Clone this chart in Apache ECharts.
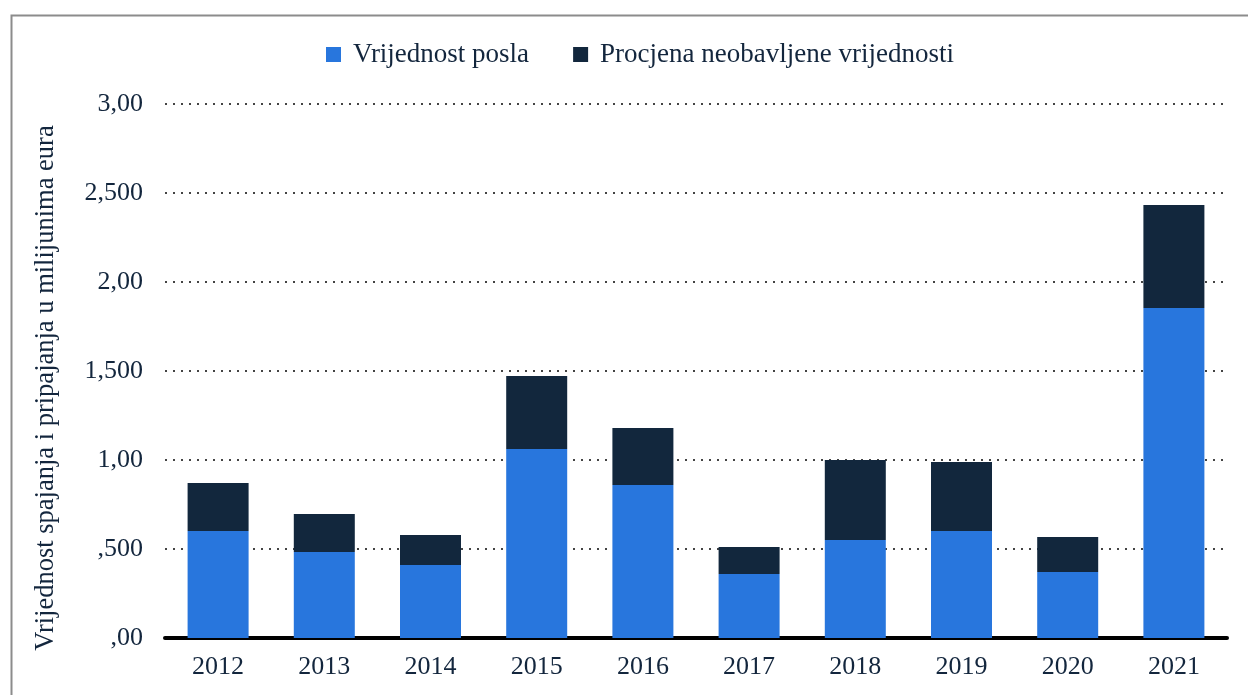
<!DOCTYPE html>
<html>
<head>
<meta charset="utf-8">
<script src="https://cdn.jsdelivr.net/npm/echarts@6/dist/echarts.min.js"></script>
<style>
  html, body { margin: 0; padding: 0; background: #fff; }
  #chart { width: 1248px; height: 695px; }
</style>
</head>
<body>
<div id="chart"></div>
<script>
var years = ['2012', '2013', '2014', '2015', '2016', '2017', '2018', '2019', '2020', '2021'];
var dealValue = [601, 483, 410, 1062, 860, 360, 551, 601, 371, 1854];
var undisclosedValue = [270, 214, 169, 410, 320, 151, 449, 388, 196, 579];
var yTickLabels = [',00', ',500', '1,00', '1,500', '2,00', '2,500', '3,00'];

var textColor = '#13263d';
var font = '"Liberation Serif", "Times New Roman", serif';

var chart = echarts.init(document.getElementById('chart'));

var option = {
  backgroundColor: '#fff',
  textStyle: { fontFamily: font },
  graphic: [{
    type: 'rect',
    shape: { x: 11.5, y: 15.5, width: 1260, height: 700 },
    style: { fill: 'none', stroke: '#8c8c8c', lineWidth: 2 },
    silent: true
  }],
  legend: {
    top: 36,
    left: 321,
    itemWidth: 15,
    itemHeight: 15,
    itemGap: 44,
    icon: 'rect',
    textStyle: { fontFamily: font, fontSize: 27, color: textColor, padding: [0, 0, 0, 7] },
    data: ['Vrijednost posla', 'Procjena neobavljene vrijednosti']
  },
  grid: { left: 165, right: 21, top: 104, bottom: 57 },
  xAxis: {
    type: 'category',
    data: years,
    axisLine: { lineStyle: { color: '#000', width: 4 } },
    axisTick: { show: false },
    axisLabel: { fontFamily: font, fontSize: 26, color: textColor, margin: 16 }
  },
  yAxis: {
    type: 'value',
    min: 0,
    max: 3000,
    interval: 500,
    name: 'Vrijednost spajanja i pripajanja u milijunima eura',
    nameLocation: 'middle',
    nameGap: 105,
    nameTextStyle: { fontFamily: font, fontSize: 26.5, color: textColor, padding: [0, 34, 0, 0] },
    axisLine: { show: false },
    axisTick: { show: false },
    axisLabel: {
      fontFamily: font, fontSize: 26, color: textColor, margin: 22,
      formatter: function (v) { return yTickLabels[Math.round(v / 500)]; }
    },
    splitLine: { lineStyle: { color: '#444', type: [2, 6], width: 2 } }
  },
  series: [{
    name: 'Vrijednost posla',
    type: 'bar',
    stack: 'total',
    barWidth: 61,
    itemStyle: { color: '#2876dd' },
    data: dealValue
  }, {
    name: 'Procjena neobavljene vrijednosti',
    type: 'bar',
    stack: 'total',
    barWidth: 61,
    itemStyle: { color: '#12273d' },
    data: undisclosedValue
  }]
};

chart.setOption(option);
</script>
</body>
</html>
